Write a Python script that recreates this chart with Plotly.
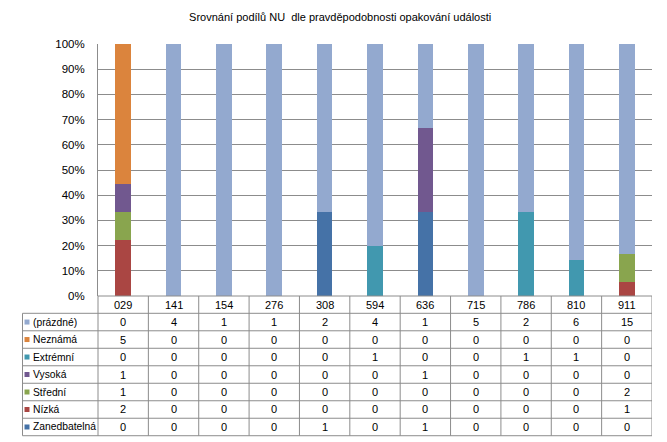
import plotly.graph_objects as go

categories = ["029", "141", "154", "276", "308", "594", "636", "715", "786", "810", "911"]
# series listed bottom-to-top of the stack
series_names = ["Zanedbatelná", "Nízká", "Střední", "Vysoká", "Extrémní", "Neznámá", "(prázdné)"]
zanedbatelna = [0, 0, 0, 0, 1, 0, 1, 0, 0, 0, 0]
nizka =        [2, 0, 0, 0, 0, 0, 0, 0, 0, 0, 1]
stredni =      [1, 0, 0, 0, 0, 0, 0, 0, 0, 0, 2]
vysoka =       [1, 0, 0, 0, 0, 0, 1, 0, 0, 0, 0]
extremni =     [0, 0, 0, 0, 0, 1, 0, 0, 1, 1, 0]
neznama =      [5, 0, 0, 0, 0, 0, 0, 0, 0, 0, 0]
prazdne =      [0, 4, 1, 1, 2, 4, 1, 5, 2, 6, 15]
series_values = [zanedbatelna, nizka, stredni, vysoka, extremni, neznama, prazdne]
colors = ["#4572A7", "#AA4643", "#89A54E", "#71588F", "#4198AF", "#DB843D", "#93A9CF"]

title = "Srovnání podílů NU  dle pravděpodobnosti opakování události"

W, H = 667, 442
def px(x): return x / W
def py(y): return 1 - y / H

FONT = "Liberation Sans"
LINE = "#8C8C8C"
plot_left, plot_right = 98, 652
y0pix, y100pix = 296, 44
header_bottom = 313.3
row_h = 17.49
table_left = 22.5
table_bottom = header_bottom + row_h * len(series_names)

fig = go.Figure()
for name, vals, col in zip(series_names, series_values, colors):
    fig.add_trace(go.Bar(x=categories, y=vals, name=name, marker_color=col,
                         marker_line_width=0, showlegend=False))

fig.update_layout(
    width=W, height=H, margin=dict(l=0, r=0, t=0, b=0, pad=0, autoexpand=False),
    barmode="stack", barnorm="percent", bargap=0.69,
    paper_bgcolor="white", plot_bgcolor="white",
    font=dict(family=FONT, size=11, color="#000000"),
    title=dict(text=title, x=0.51, xanchor="center", y=py(17), yanchor="middle",
               font=dict(family=FONT, size=11, color="#000000")),
    xaxis=dict(type="category", domain=[px(plot_left), px(plot_right)],
               range=[-0.5, len(categories) - 0.5], automargin=False,
               showticklabels=False, showgrid=False, zeroline=False, showline=False,
               fixedrange=True),
    yaxis=dict(domain=[py(y0pix), py(y100pix)], range=[0, 100], dtick=10, ticksuffix="%",
               automargin=False,
               showgrid=True, gridcolor=LINE, gridwidth=1, zeroline=False,
               showline=True, linecolor=LINE, linewidth=1,
               ticks="", ticklabelstandoff=10,
               tickfont=dict(family=FONT, size=11.5, color="#000000"), fixedrange=True),
)

shapes = []
annotations = []
shapes.append(dict(type="line", xref="paper", yref="paper", x0=px(plot_left), x1=px(plot_right),
                   y0=py(y0pix), y1=py(y0pix), line=dict(color=LINE, width=1)))
for k in range(len(series_names) + 1):
    yy = header_bottom + k * row_h
    shapes.append(dict(type="line", xref="paper", yref="paper", x0=px(table_left), x1=px(plot_right),
                       y0=py(yy), y1=py(yy), line=dict(color=LINE, width=1)))
shapes.append(dict(type="line", xref="paper", yref="paper", x0=px(table_left), x1=px(table_left),
                   y0=py(header_bottom), y1=py(table_bottom), line=dict(color=LINE, width=1)))
shapes.append(dict(type="line", xref="paper", yref="paper", x0=px(plot_left), x1=px(plot_left),
                   y0=py(y0pix), y1=py(table_bottom), line=dict(color=LINE, width=1)))
for i in range(len(categories)):
    xb = i + 0.5
    shapes.append(dict(type="line", xref="x", yref="paper", x0=xb, x1=xb,
                       y0=py(y0pix), y1=py(table_bottom), line=dict(color=LINE, width=1)))

# header labels
for i, c in enumerate(categories):
    annotations.append(dict(x=i, xref="x", y=py((y0pix + header_bottom) / 2), yref="paper",
                            text=c, showarrow=False, xanchor="center", yanchor="middle",
                            font=dict(family=FONT, size=11, color="#000000")))

# table rows: top row is last series
rows = list(zip(series_names, series_values, colors))[::-1]
for k, (name, vals, col) in enumerate(rows):
    yc = header_bottom + (k + 0.5) * row_h
    shapes.append(dict(type="rect", xref="paper", yref="paper",
                       x0=px(24.5), x1=px(29.5), y0=py(yc - 2.5), y1=py(yc + 2.5),
                       fillcolor=col, line=dict(width=0)))
    annotations.append(dict(x=px(31), xref="paper", y=py(yc), yref="paper", text=name,
                            showarrow=False, xanchor="left", yanchor="middle",
                            font=dict(family=FONT, size=10.3, color="#000000")))
    for i, v in enumerate(vals):
        annotations.append(dict(x=i, xref="x", y=py(yc), yref="paper", text=str(v),
                                showarrow=False, xanchor="center", yanchor="middle",
                                font=dict(family=FONT, size=11, color="#000000")))

fig.update_layout(shapes=shapes, annotations=annotations)
fig.write_html("out.html")
